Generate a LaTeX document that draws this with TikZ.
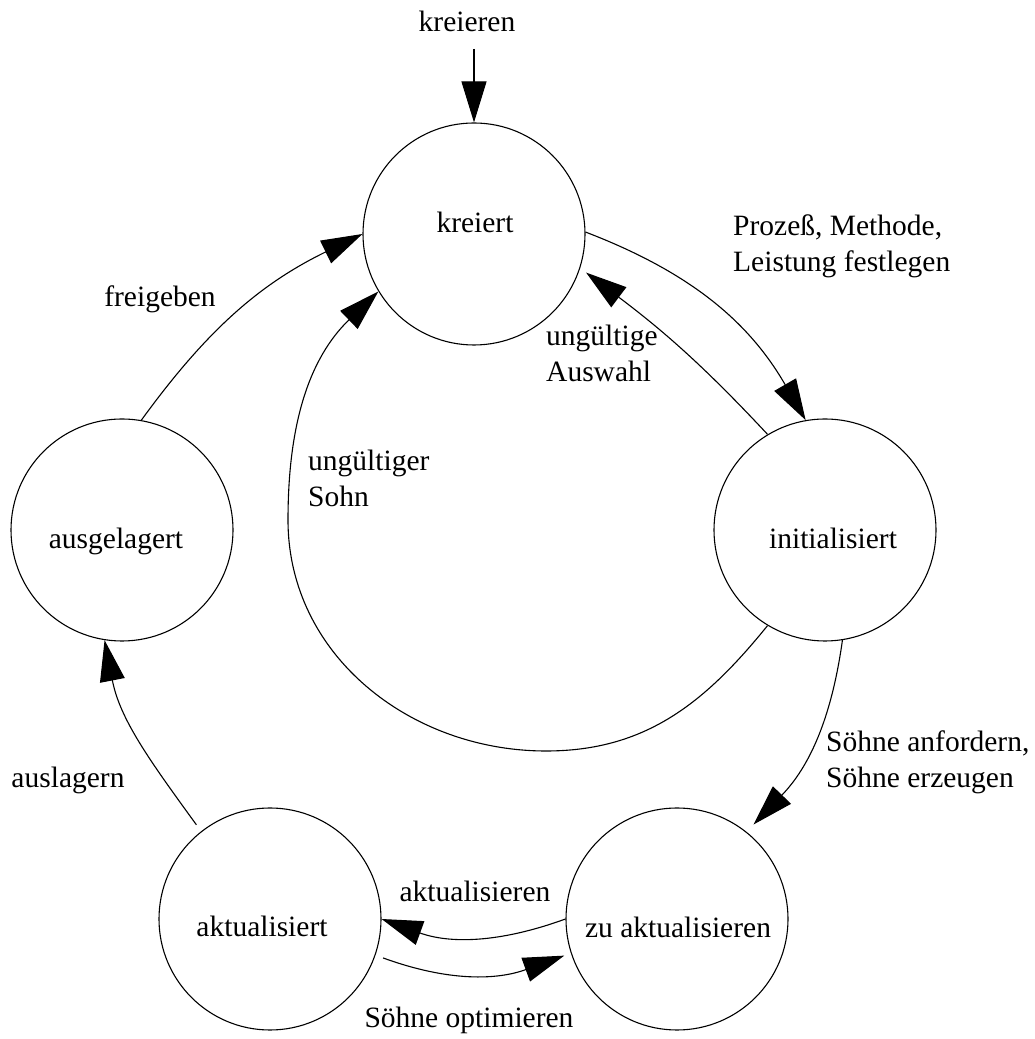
\documentclass[tikz,border=0pt]{standalone}
\usepackage{fontspec}
\setmainfont{Liberation Serif}
\usetikzlibrary{arrows.meta}
\begin{document}
\begin{tikzpicture}[x=1pt,y=1pt,
  state/.style={circle,draw,line width=1.1pt,minimum size=222pt,inner sep=0pt},
  txt/.style={font=\fontsize{29.5}{36}\selectfont,inner sep=0pt},
  edge/.style={line width=1.1pt,-{Triangle[length=41pt,width=25pt]}},
]
\useasboundingbox (0,0) rectangle (1035,1039);

% states
\node[state] (K)  at (474,805) {};
\node[state] (I)  at (825,509) {};
\node[state] (A)  at (122,509) {};
\node[state] (AK) at (270,120) {};
\node[state] (Z)  at (677,120) {};

% state names
\node[txt,anchor=base] (Kt)  at (475,806) {kreiert};
\node[txt,anchor=base] (It)  at (833,490) {initialisiert};
\node[txt,anchor=base] (At)  at (116,490) {ausgelagert};
\node[txt,anchor=base] (AKt) at (262,102) {aktualisiert};
\node[txt,anchor=base] (Zt)  at (678,101) {zu aktualisieren};

% entry
\coordinate (entry) at (474,990);
\node[txt,anchor=base] (lentry) at (467,1007) {kreieren};
\draw[edge] (entry) -- (K.north);

% transitions
\draw[edge] (K.1) to[out=-21,in=120] (I.100);
\draw[edge] (I.121) to[out=133,in=-37] ([shift={(-19:7pt)}]K.-19);
\draw[edge] (A.80) to[out=54,in=-154] (K.180);
\draw[edge] (I.239) to[out=231,in=0] (546,288) to[out=180,in=-90] (288,519)
            to[out=90,in=224] (K.211);
\draw[edge] (I.279) to[out=262,in=46] ([shift={(51:10pt)}]Z.51);
\draw[edge] ([shift={(128:8pt)}]AK.128) to[out=126,in=-79] (A.261);
\draw[edge] (Z.180) to[out=200,in=-20] (AK.0);
\draw[edge] ([shift={(-19:8pt)}]AK.-19) to[out=-20,in=200] ([shift={(198:7pt)}]Z.198);

% transition labels
\node[txt,anchor=base west,align=left] (l1) at (733,767) {Prozeß, Methode,\\Leistung festlegen};
\node[txt,anchor=base west,align=left] (l2) at (546,657) {ungültige\\Auswahl};
\node[txt,anchor=base west,align=left] (l3) at (308,532) {ungültiger\\Sohn};
\node[txt,anchor=base] (l4) at (160,732) {freigeben};
\node[txt,anchor=base] (l5) at (68,251) {auslagern};
\node[txt,anchor=base west,align=left] (l6) at (826,251) {Söhne anfordern,\\Söhne erzeugen};
\node[txt,anchor=base] (l7) at (475,137) {aktualisieren};
\node[txt,anchor=base] (l8) at (469,12) {Söhne optimieren};
\end{tikzpicture}
\end{document}
